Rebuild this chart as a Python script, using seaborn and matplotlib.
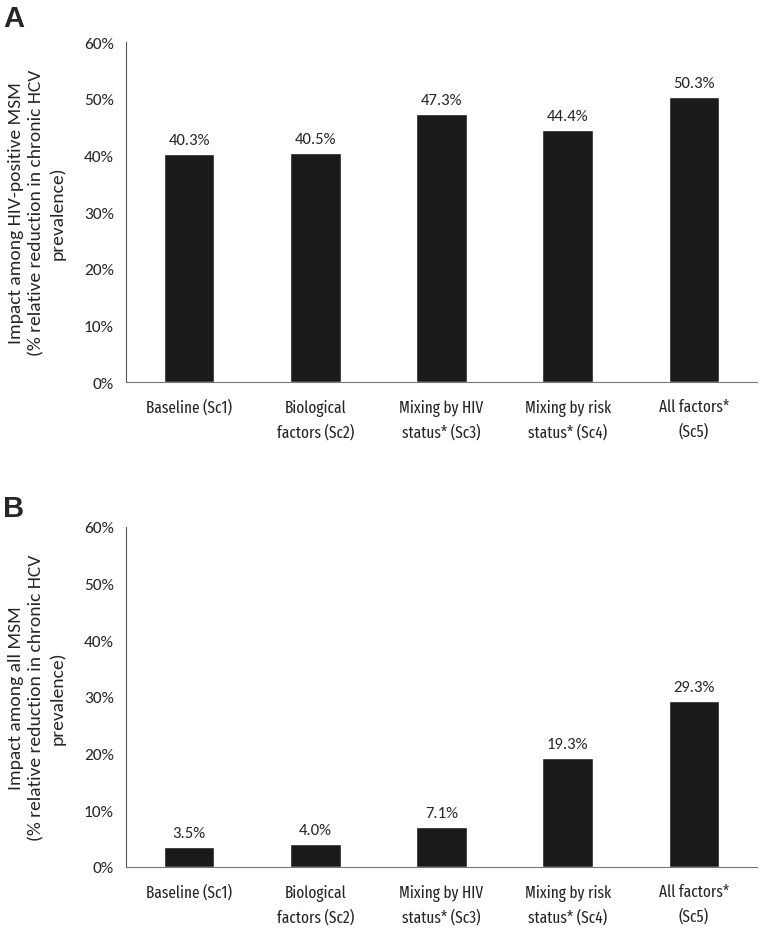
import pandas as pd
import matplotlib.pyplot as plt
import seaborn as sns
from matplotlib.ticker import PercentFormatter

escenarios = ["Baseline (Sc1)", "Biological\nfactors (Sc2)", "Mixing by HIV\nstatus* (Sc3)",
              "Mixing by risk\nstatus* (Sc4)", "All factors*\n(Sc5)"]
impacto_hiv = [40.3, 40.5, 47.3, 44.4, 50.3]
impacto_todos = [3.5, 4.0, 7.1, 19.3, 29.3]

sns.set_style("white")
# Carlito tiene las mismas métricas que Calibri
plt.rcParams['font.family'] = ['Carlito', 'DejaVu Sans']

fig = plt.figure(figsize=(7.6, 9.29), dpi=100)

paneles = [
    ("A", impacto_hiv, "Impact among HIV-positive MSM\n(% relative reduction in chronic HCV\nprevalence)",
     [0.166, 0.5877, 0.830, 0.366], 0.9795),
    ("B", impacto_todos, "Impact among all MSM\n(% relative reduction in chronic HCV\nprevalence)",
     [0.166, 0.0657, 0.830, 0.366], 0.4516),
]

for letra, valores, etiqueta, pos, y_letra in paneles:
    ax = fig.add_axes(pos)
    df = pd.DataFrame({"escenario": escenarios, "valor": valores})
    sns.barplot(data=df, x="escenario", y="valor", color="#1a1a1a", width=0.4,
                saturation=1, ax=ax)
    ax.set_ylim(0, 60)
    ax.set_yticks(range(0, 61, 10))
    ax.yaxis.set_major_formatter(PercentFormatter(decimals=0))
    ax.set_xlabel("")
    ax.set_ylabel(etiqueta, fontsize=14, labelpad=13, linespacing=1.35)
    ax.tick_params(axis="both", length=0)
    ax.tick_params(axis="y", pad=9, labelsize=12.5)
    ax.tick_params(axis="x", pad=12)
    for t in ax.get_xticklabels():
        t.set_fontfamily(["Fira Sans Extra Condensed", "Carlito"])
        t.set_fontsize(12)
        t.set_linespacing(1.6)
    for lado in ["top", "right"]:
        ax.spines[lado].set_visible(False)
    ax.spines["left"].set_color("#555555")
    ax.spines["bottom"].set_color("#777777")
    for barra, v in zip(ax.patches, valores):
        ax.annotate(f"{v:.1f}%", (barra.get_x() + barra.get_width() / 2, v),
                    xytext=(0, 5), textcoords="offset points", ha="center", va="bottom",
                    fontsize=12)
    fig.text(0.004, y_letra, letra, fontsize=21, fontweight="bold", family="Liberation Sans",
             va="center")

plt.savefig("out.png", dpi=100)
